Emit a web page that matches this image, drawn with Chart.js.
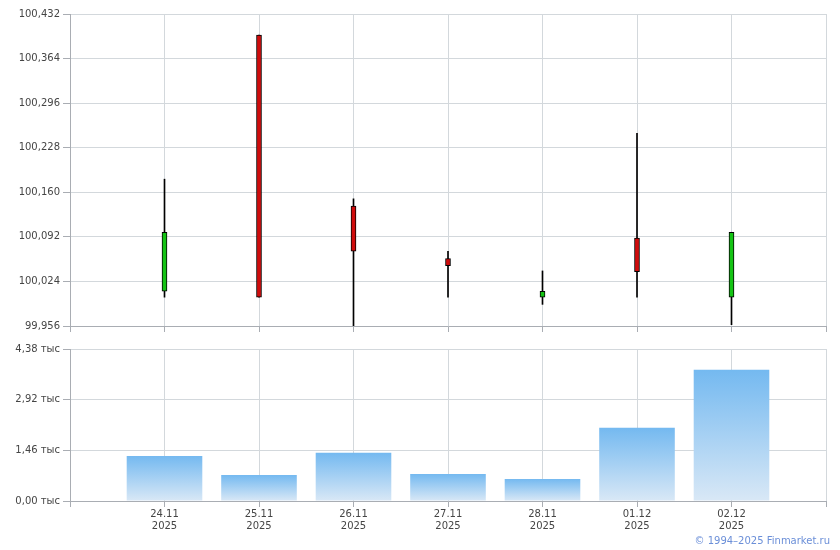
<!DOCTYPE html>
<html>
<head>
<meta charset="utf-8">
<script src="https://cdn.jsdelivr.net/npm/chart.js@4.4.1/dist/chart.umd.min.js"></script>
<style>
	html, body { margin: 0; padding: 0; background: #fff; }
	#wrap { position: relative; width: 840px; height: 550px; }
	#priceBox { position: absolute; left: 0; top: 0; width: 840px; height: 340px; }
	#volBox { position: absolute; left: 0; top: 340px; width: 840px; height: 210px; }
	#copy { position: absolute; right: 10px; top: 535px; font: 10px "DejaVu Sans", sans-serif; color: #6b8fd8; }
</style>
</head>
<body>
<div id="wrap">
	<div id="priceBox"><canvas id="priceChart"></canvas></div>
	<div id="volBox"><canvas id="volChart"></canvas></div>
	<div id="copy">© 1994–2025 Finmarket.ru</div>
</div>
<script>
(function () {
	'use strict';

	var dates = ['24.11', '25.11', '26.11', '27.11', '28.11', '01.12', '02.12'];
	var years = ['2025', '2025', '2025', '2025', '2025', '2025', '2025'];
	var opens = [100.009, 100.400, 100.139, 100.059, 100.000, 100.090, 100.000];
	var highs = [100.180, 100.400, 100.150, 100.070, 100.040, 100.250, 100.099];
	var lows = [100.000, 100.000, 99.956, 100.000, 99.989, 100.000, 99.958];
	var closes = [100.099, 100.000, 100.070, 100.048, 100.009, 100.039, 100.099];
	var volumes = [1300, 750, 1390, 780, 635, 2110, 3780];

	var priceTicks = [99.956, 100.024, 100.092, 100.160, 100.228, 100.296, 100.364, 100.432];
	var volTicks = [0, 1460, 2920, 4380];

	var GRID = '#d3d8dc';
	var AXIS = '#a9adb3';
	var UP = '#14c414';
	var DOWN = '#d00c0c';

	Chart.defaults.font.family = '"DejaVu Sans", Verdana, sans-serif';
	Chart.defaults.font.size = 10;
	Chart.defaults.color = '#454545';
	Chart.defaults.animation = false;

	// empty slot at each end so the candles sit one step in from the edges
	function pad(arr) {
		return [null].concat(arr, [null]);
	}

	var labels = pad(dates.map(function (d, i) { return [d, years[i]]; }));
	labels[0] = '';
	labels[labels.length - 1] = '';

	var wicks = pad(lows.map(function (l, i) { return [l, highs[i]]; }));
	var bodies = pad(opens.map(function (o, i) { return [o, closes[i]]; }));
	var bodyColors = pad(opens.map(function (o, i) { return closes[i] > o ? UP : DOWN; }));

	function fixedTicks(list) {
		return function (scale) {
			scale.ticks = list.map(function (v) { return { value: v }; });
		};
	}

	function xAxis(height, showLabels) {
		return {
			offset: false,
			grid: { offset: false, color: GRID, tickColor: AXIS, tickLength: 6 },
			border: { color: AXIS },
			ticks: {
				display: showLabels,
				autoSkip: false,
				maxRotation: 0,
				padding: 1,
			},
			afterFit: function (scale) { scale.height = height; },
		};
	}

	function yAxis(min, max, list, fmt) {
		return {
			min: min,
			max: max,
			afterBuildTicks: fixedTicks(list),
			grid: { color: GRID, tickColor: AXIS, tickLength: 7 },
			border: { color: AXIS },
			ticks: { padding: 3, callback: fmt },
			afterFit: function (scale) { scale.width = 70; },
		};
	}

	new Chart(document.getElementById('priceChart'), {
		type: 'bar',
		data: {
			labels: labels,
			datasets: [
				{
					data: wicks,
					backgroundColor: '#000',
					barThickness: 1,
					grouped: false,
					order: 2,
				},
				{
					data: bodies,
					backgroundColor: bodyColors,
					borderColor: '#000',
					borderWidth: 1,
					borderSkipped: false,
					barThickness: 5,
					grouped: false,
					order: 1,
				},
			],
		},
		options: {
			responsive: true,
			maintainAspectRatio: false,
			layout: { padding: { top: 14, right: 14, left: 0, bottom: 0 } },
			plugins: { legend: { display: false }, tooltip: { enabled: false } },
			scales: {
				x: xAxis(14, false),
				y: yAxis(99.956, 100.432, priceTicks, function (v) {
					return v.toFixed(3).replace('.', ',');
				}),
			},
		},
	});

	// each bar gets its own gradient, from its top down to the axis
	function volumeFill(context) {
		var chart = context.chart;
		var area = chart.chartArea;
		var v = context.raw;
		if (!area || v == null) return '#8cc4f2';
		var top = chart.scales.y.getPixelForValue(v);
		var g = chart.ctx.createLinearGradient(0, top, 0, area.bottom);
		g.addColorStop(0, '#74b9f0');
		g.addColorStop(1, '#d9e8f6');
		return g;
	}

	new Chart(document.getElementById('volChart'), {
		type: 'bar',
		data: {
			labels: labels,
			datasets: [
				{
					data: pad(volumes),
					backgroundColor: volumeFill,
					barPercentage: 0.8,
					categoryPercentage: 1,
				},
			],
		},
		options: {
			responsive: true,
			maintainAspectRatio: false,
			layout: { padding: { top: 9, right: 14, left: 0, bottom: 0 } },
			plugins: { legend: { display: false }, tooltip: { enabled: false } },
			scales: {
				x: xAxis(49, true),
				y: yAxis(0, 4380, volTicks, function (v) {
					return (v / 1000).toFixed(2).replace('.', ',') + ' тыс';
				}),
			},
		},
	});
})();
</script>
</body>
</html>
